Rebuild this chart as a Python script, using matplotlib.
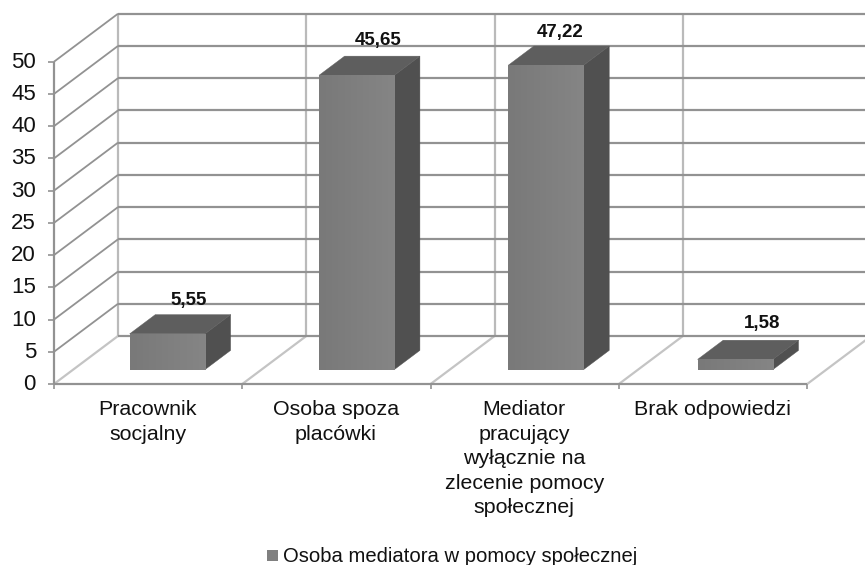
import matplotlib

matplotlib.use("Agg")
import matplotlib.pyplot as plt
import numpy as np
from matplotlib.colors import LinearSegmentedColormap
from matplotlib.patches import Polygon, Rectangle

# ======= data =======
CATEGORIES = [
    "Pracownik\nsocjalny",
    "Osoba spoza\nplacówki",
    "Mediator\npracujący\nwyłącznie na\nzlecenie pomocy\nspołecznej",
    "Brak odpowiedzi",
]
VALUES = [5.55, 45.65, 47.22, 1.58]
VALUE_LABELS = ["5,55", "45,65", "47,22", "1,58"]
Y_TICKS = [0, 5, 10, 15, 20, 25, 30, 35, 40, 45, 50]
LEGEND_LABEL = "Osoba mediatora w pomocy społecznej"

# ======= layout (pixels) =======
WIDTH, HEIGHT = 865, 565
X0, Y0 = 54, 384  # front corner of the floor
CAT_W = 188.3  # width of one category
UNIT_H = 6.446  # height of one value unit
DEPTH_X, DEPTH_Y = 64, 48  # oblique offset of the back wall
BAR_START, BAR_END = 0.3, 0.7  # bar extent inside a category, both along x and depth
BAR_DRIFT = 1.0  # bars sit a little wider apart than the category ticks
LABEL_DX = [21, 21, 14, 27]  # value label shift from the front face centre
LABEL_DY = [-33, -35, -33, -36]

# ======= colours =======
WALL_H = "#929292"
WALL_V = "#bababa"
FLOOR = "#c4c4c4"
FRONT_L = "#797979"
FRONT_R = "#858585"
LEGEND_BOX = "#808080"
TOP = "#5e5e5e"
SIDE = "#505050"
TEXT = "#111111"
FONT = "Liberation Sans"

front_cmap = LinearSegmentedColormap.from_list("front", [FRONT_L, FRONT_R])


def project(cat, value, depth):
    """Oblique projection of (category, value, depth) to pixels."""
    return (
        X0 + cat * CAT_W + depth * DEPTH_X,
        Y0 - value * UNIT_H - depth * DEPTH_Y,
    )


def seg(ax, p, q, color, lw=1.6, z=1):
    ax.plot([p[0], q[0]], [p[1], q[1]], color=color, lw=lw, zorder=z,
            solid_capstyle="butt")


fig = plt.figure(figsize=(WIDTH / 100, HEIGHT / 100), dpi=100)
ax = fig.add_axes([0, 0, 1, 1])
ax.axis("off")

n = len(CATEGORIES)
top = Y_TICKS[-1]

# floor and vertical wall lines
for i in range(n + 1):
    seg(ax, project(i, 0, 0), project(i, 0, 1), FLOOR)
    seg(ax, project(i, 0, 1), project(i, top, 1), WALL_V)
    seg(ax, project(i, 0, 0), (project(i, 0, 0)[0], Y0 + 5), WALL_H, lw=1.2)
seg(ax, project(0, 0, 1), project(n, 0, 1), WALL_H)

# value gridlines on the side and back walls
seg(ax, project(0, 0, 0), project(0, top, 0), WALL_H, z=2)
seg(ax, project(0, 0, 0), project(n, 0, 0), WALL_H, z=2)
for v in Y_TICKS:
    x, y = project(0, v, 0)
    seg(ax, (x - 6, y), (x, y), WALL_H, lw=1.2, z=2)
    ax.text(x - 18, y + 0.5, str(v), ha="right", va="center", fontsize=16,
            family=FONT, color=TEXT)
    if v > 0:
        seg(ax, project(0, v, 0), project(0, v, 1), WALL_H, lw=1.3)
        seg(ax, project(0, v, 1), project(n, v, 1), WALL_H)

# bars
for i, v in enumerate(VALUES):
    a, b = i + BAR_START, i + BAR_END
    shift = np.array([i * BAR_DRIFT, 0])
    corners = {
        "fl": project(a, 0, BAR_START), "fr": project(b, 0, BAR_START),
        "ftl": project(a, v, BAR_START), "ftr": project(b, v, BAR_START),
        "br": project(b, 0, BAR_END), "btl": project(a, v, BAR_END),
        "btr": project(b, v, BAR_END),
    }
    c = {k: tuple(np.array(p) + shift) for k, p in corners.items()}
    ax.add_patch(Polygon([c["fr"], c["br"], c["btr"], c["ftr"]], closed=True,
                         fc=SIDE, ec=SIDE, lw=0.3, zorder=3))
    ax.add_patch(Polygon([c["ftl"], c["ftr"], c["btr"], c["btl"]], closed=True,
                         fc=TOP, ec=TOP, lw=0.3, zorder=3))
    # front face with a faint left to right shade
    ax.imshow(np.linspace(0, 1, 64).reshape(1, -1), cmap=front_cmap, aspect="auto",
              extent=(c["fl"][0], c["fr"][0], c["fl"][1], c["ftl"][1]), zorder=4)

    x, y = c["ftl"][0] + (c["ftr"][0] - c["ftl"][0]) / 2, c["ftl"][1]
    ax.text(x + LABEL_DX[i], y + LABEL_DY[i], VALUE_LABELS[i], ha="center",
            va="center", fontsize=13.5, fontweight="bold", family=FONT,
            color=TEXT, zorder=5)

# category labels
for i, label in enumerate(CATEGORIES):
    x, _ = project(i + 0.5, 0, 0)
    ax.text(x - 0.5, 400, label, ha="center", va="top", fontsize=15.4, family=FONT,
            color=TEXT, linespacing=1.37)

# legend
ax.add_patch(Rectangle((267, 550), 11, 11, fc=LEGEND_BOX, ec="none"))
ax.text(283, 557, LEGEND_LABEL, ha="left", va="center", fontsize=14.6,
        family=FONT, color=TEXT)

ax.set_xlim(0, WIDTH)
ax.set_ylim(HEIGHT, 0)
fig.savefig("out.png", dpi=100)
plt.close(fig)
